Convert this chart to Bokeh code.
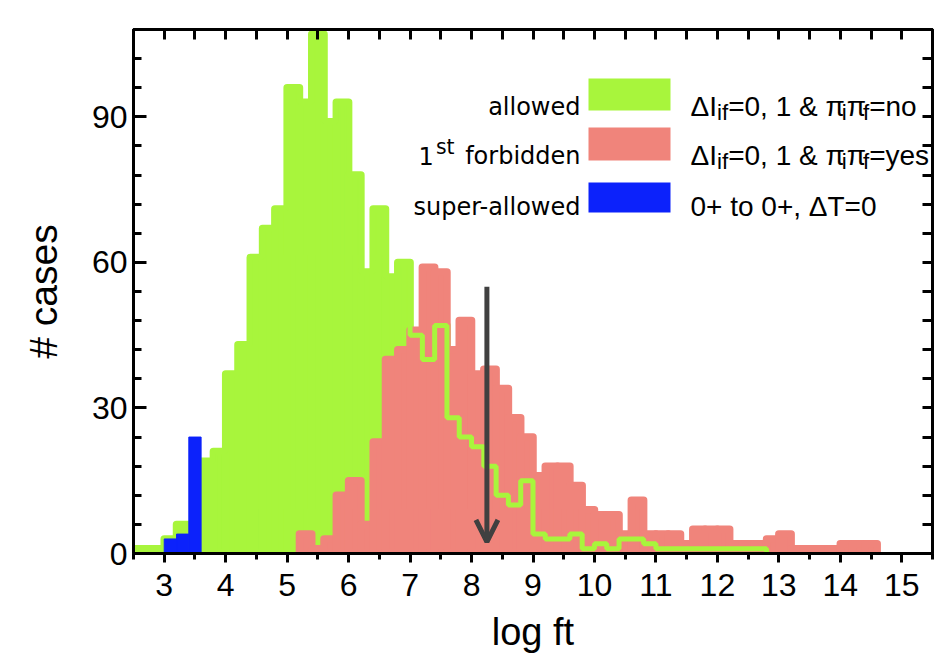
import numpy as np
from bokeh.plotting import figure
from bokeh.models import (Range1d, LinearAxis, FixedTicker, Label, BoxAnnotation,
                          Arrow, OpenHead, GlobalInlineStyleSheet)
from bokeh.embed import file_html
from bokeh.resources import INLINE

# ---------------- data ----------------
bin_width = 0.2
allowed_first_edge = 2.4
allowed_counts = [1, 1, 1, 3, 6, 5, 19, 21, 37, 43,
                  61, 67, 71, 96, 93, 107, 89, 93, 78, 58,
                  71, 57, 60, 45, 40, 47, 28, 24, 22, 18,
                  12, 10, 15, 4, 3, 3, 4, 1, 2, 1,
                  3, 3, 2, 1, 1, 1, 1, 1, 1, 1, 1, 1]
forbidden_first_edge = 5.2
forbidden_counts = [4, 1, 3, 12, 15, 6, 23, 40, 42, 46,
                    59, 58, 42, 48, 37, 38, 34, 28, 24, 16,
                    18, 18, 14, 9, 8, 8, 4, 11, 4, 4,
                    4, 2, 5, 5, 5, 2, 2, 2, 3, 4,
                    1, 1, 1, 1, 2, 2, 2]
superallowed_first_edge = 3.0
superallowed_counts = [3, 4, 24]

x_ticks = [3, 4, 5, 6, 7, 8, 9, 10, 11, 12, 13, 14, 15]
x_minor = [2.5, 3, 3.5, 4, 4.5, 5, 5.5, 6, 6.5, 7, 7.5, 8, 8.5, 9, 9.5, 10,
           10.5, 11, 11.5, 12, 12.5, 13, 13.5, 14, 14.5, 15, 15.5]
y_ticks = [0, 30, 60, 90]
y_minor = [0, 6, 12, 18, 24, 30, 36, 42, 48, 54, 60, 66, 72, 78, 84, 90, 96, 102, 108]

median_x = 8.25
arrow_top, arrow_tip = 55.0, 2.4

legend_names = ["allowed", None, "super-allowed"]
legend_desc = [
    [("\u0394I", False), ("if", True), ("=0, 1 & \u03c0", False), ("i", True),
     ("\u03c0", False), ("f", True), ("=no", False)],
    [("\u0394I", False), ("if", True), ("=0, 1 & \u03c0", False), ("i", True),
     ("\u03c0", False), ("f", True), ("=yes", False)],
    [("0+ to 0+, \u0394T=0", False)],
]

GREEN = "#a8f53c"
RED = "#f0847b"
BLUE = "#0c22fb"
ARROW = "#404040"

W_FIG, H_FIG = 935, 657
B_LEFT, B_RIGHT, B_TOP, B_BOTTOM = 133, 3, 29, 104
X0, X1, Y0, Y1 = 2.5, 15.5, 0, 108
FW = W_FIG - B_LEFT - B_RIGHT
FH = H_FIG - B_TOP - B_BOTTOM

def xv(px):   # picture pixel -> data x
    return X0 + (px - B_LEFT) * (X1 - X0) / FW

def yv(py):   # picture pixel -> data y
    return Y0 + (B_TOP + FH - py) * (Y1 - Y0) / FH

def bins(first, counts):
    n = len(counts)
    left = np.round(first + bin_width * np.arange(n), 3)
    return left, left + bin_width

p = figure(width=W_FIG, height=H_FIG, x_range=Range1d(X0, X1), y_range=Range1d(Y0, Y1),
           x_axis_type=None, y_axis_type=None, output_backend="svg",
           toolbar_location=None, background_fill_color="white",
           border_fill_color="white")
p.min_border_left = B_LEFT
p.min_border_right = B_RIGHT
p.min_border_top = B_TOP
p.min_border_bottom = B_BOTTOM
p.outline_line_color = "black"
p.outline_line_width = 3
p.stylesheets = [GlobalInlineStyleSheet(css="html,body{overflow:hidden;}")]

# allowed (filled)
gl, gr = bins(allowed_first_edge, allowed_counts)
p.quad(left=gl, right=gr, bottom=0, top=allowed_counts, fill_color=GREEN,
       line_color=GREEN, line_width=7.5, line_join="round")
# first forbidden (filled)
rl, rr = bins(forbidden_first_edge, forbidden_counts)
p.quad(left=rl, right=rr, bottom=0, top=forbidden_counts, fill_color=RED,
       line_color=RED, line_width=7.5, line_join="round")
# allowed outline on top
sx = list(gl) + [gr[-1]]
sy = list(allowed_counts) + [0]
p.step(x=sx, y=sy, mode="after", line_color=GREEN, line_width=5)
# super-allowed
bl, br = bins(superallowed_first_edge, superallowed_counts)
p.quad(left=bl, right=br, bottom=0, top=superallowed_counts, fill_color=BLUE,
       line_color=BLUE, line_width=1)

# arrow
p.add_layout(Arrow(x_start=median_x, y_start=arrow_top, x_end=median_x, y_end=arrow_tip,
                   line_color=ARROW, line_width=5,
                   end=OpenHead(size=22, line_color=ARROW, line_width=5)))

# axes
def style(ax):
    ax.axis_line_width = 3
    ax.major_tick_line_width = 3
    ax.minor_tick_line_width = 3
    ax.major_label_text_font = "Liberation Sans"
    ax.major_label_text_font_size = "32px"
    ax.major_label_text_color = "black"
    ax.axis_label_text_font = "Liberation Sans"
    ax.axis_label_text_font_style = "normal"
    ax.axis_label_text_color = "black"
    return ax

left_ax = style(LinearAxis(ticker=FixedTicker(ticks=y_ticks, minor_ticks=y_minor),
                           major_tick_in=13, major_tick_out=0,
                           minor_tick_in=8, minor_tick_out=0))
left_ax.major_label_standoff = 6
left_ax.axis_label = "# cases"
left_ax.axis_label_text_font_size = "39px"
left_ax.axis_label_standoff = 24
p.add_layout(left_ax, "left")

bottom_ax = style(LinearAxis(ticker=FixedTicker(ticks=x_ticks, minor_ticks=x_minor),
                             major_tick_in=0, major_tick_out=9,
                             minor_tick_in=0, minor_tick_out=6))
bottom_ax.major_label_standoff = 11
bottom_ax.axis_label = "log ft"
bottom_ax.axis_label_text_font_size = "38px"
bottom_ax.axis_label_standoff = 12
p.add_layout(bottom_ax, "below")

top_ax = style(LinearAxis(ticker=FixedTicker(ticks=[], minor_ticks=x_minor),
                          major_tick_in=0, major_tick_out=0,
                          minor_tick_in=10, minor_tick_out=0))
p.add_layout(top_ax, "above")
right_ax = style(LinearAxis(ticker=FixedTicker(ticks=[], minor_ticks=y_minor),
                            major_tick_in=0, major_tick_out=0,
                            minor_tick_in=10, minor_tick_out=0))
p.add_layout(right_ax, "right")

# legend
box_rows = [(78, 110), (127, 160), (182, 212)]
base_rows = [106, 155, 206]
box_colors = [GREEN, RED, BLUE]
for (t, b), c in zip(box_rows, box_colors):
    p.add_layout(BoxAnnotation(left=xv(588), right=xv(670), top=yv(t), bottom=yv(b),
                               fill_color=c, fill_alpha=1, line_color=None, level="overlay"))

LF = 24
for name, base in zip(legend_names, base_rows):
    if name is None:
        continue
    p.add_layout(Label(x=xv(580), y=yv(base), text=name, text_align="right",
                       text_baseline="alphabetic", text_font="DejaVu Sans",
                       text_font_size=f"{LF}px", text_color="black"))
# "1st forbidden" with superscript
DV = {"1": 636, "s": 521, "t": 392, " ": 318, "f": 352, "o": 612, "r": 411, "b": 635,
      "i": 278, "d": 635, "e": 615, "n": 634}
SUP = 0.85
w_rest = sum(DV[c] for c in " forbidden") / 1000 * LF + 3
w_sup = sum(DV[c] for c in "st") / 1000 * LF * SUP + 2
for txt, off, fs, dy in [("forbidden", 0, LF, 0), ("st", -w_rest, LF * SUP, 0.36 * LF),
                         ("1", -w_rest - w_sup, LF, 0)]:
    p.add_layout(Label(x=xv(580), y=yv(base_rows[1] - dy), x_offset=off, text=txt,
                       text_align="right", text_baseline="alphabetic",
                       text_font="DejaVu Sans", text_font_size=f"{fs:.1f}px",
                       text_color="black"))

W = {"\u0394": 667, "I": 278, "i": 222, "f": 278, "=": 584, "0": 556, "1": 556, ",": 278,
     " ": 278, "&": 667, "\u03c0": 580, "n": 556, "o": 556, "y": 500, "e": 556, "s": 500,
     "+": 584, "t": 278, "T": 611}
FS = 28
for segs, base in zip(legend_desc, base_rows):
    off = 0.0
    for txt, sub in segs:
        fs = FS * 0.8 if sub else FS
        yy = yv(base + (0.2 * FS if sub else 0))
        p.add_layout(Label(x=xv(690), y=yy, x_offset=off, text=txt, text_align="left",
                           text_baseline="alphabetic", text_font="Liberation Sans",
                           text_font_size=f"{fs:.1f}px", text_color="black"))
        off += sum(W.get(ch, 556) for ch in txt) / 1000.0 * fs

open("out.html", "w").write(file_html(p, INLINE))
